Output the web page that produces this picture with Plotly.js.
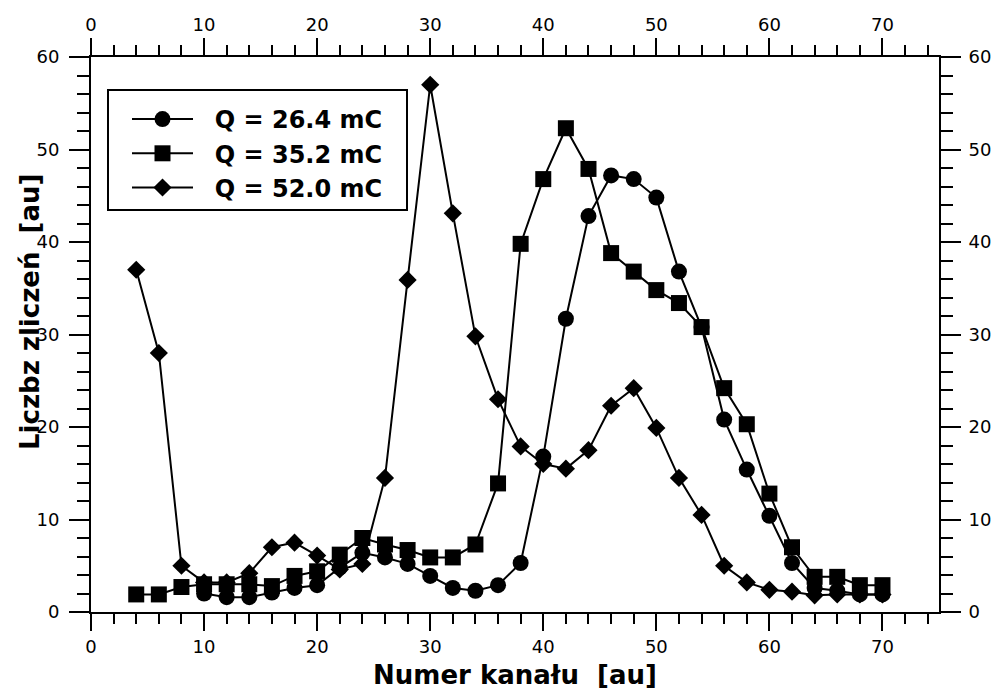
<!DOCTYPE html>
<html>
<head>
<meta charset="utf-8">
<script src="https://cdn.plot.ly/plotly-3.0.1.min.js"></script>
<style>html,body{margin:0;padding:0;background:#fff;}#chart{width:995px;height:690px;}</style>
</head>
<body>
<div id="chart"></div>
<script>
// Channel numbers
const xCirc = [10,12,14,16,18,20,22,24,26,28,30,32,34,36,38,40,42,44,46,48,50,52,54,56,58,60,62,64,66,68,70];
const xSq   = [4,6,8,10,12,14,16,18,20,22,24,26,28,30,32,34,36,38,40,42,44,46,48,50,52,54,56,58,60,62,64,66,68,70];
const xDia  = [4,6,8,10,12,14,16,18,20,22,24,26,28,30,32,34,36,38,40,42,44,46,48,50,52,54,56,58,60,62,64,66,68,70];
// Counts
const yQ264 = [2.0,1.6,1.6,2.1,2.6,2.9,4.8,6.4,5.9,5.2,3.9,2.6,2.3,2.9,5.3,16.8,31.7,42.8,47.2,46.8,44.8,36.8,30.8,20.8,15.4,10.4,5.3,2.6,2.3,1.9,1.9];
const yQ352 = [1.9,1.9,2.7,3.0,3.0,3.0,2.8,3.9,4.4,6.2,8.0,7.3,6.7,5.9,5.9,7.3,13.9,39.8,46.8,52.3,47.9,38.8,36.8,34.8,33.4,30.8,24.2,20.3,12.8,7.0,3.8,3.8,2.9,2.9];
const yQ520 = [37.0,28.0,5.0,3.2,3.2,4.2,7.0,7.5,6.1,4.6,5.2,14.5,35.9,57.0,43.1,29.8,23.0,17.9,16.0,15.5,17.5,22.3,24.2,19.9,14.5,10.5,5.0,3.2,2.4,2.2,1.8,1.9,1.9,1.9];
const seriesNames = ['Q = 26.4 mC','Q = 35.2 mC','Q = 52.0 mC'];
const xTicks = [0,10,20,30,40,50,60,70];
const yTicks = [0,10,20,30,40,50,60];
const xTitle = 'Numer kanału  [au]';
const yTitle = 'Liczbz zliczeń  [au]';

const FONT = 'DejaVu Sans, Verdana, sans-serif';
const lineSty = {color:'#000', width:2};
const pad = '\u00a0\u00a0';

const traces = [
  {x:xCirc, y:yQ264, name:pad + seriesNames[0], mode:'lines+markers', line:lineSty,
   marker:{symbol:'circle', size:16, color:'#000'}},
  {x:xSq, y:yQ352, name:pad + seriesNames[1], mode:'lines+markers', line:lineSty,
   marker:{symbol:'square', size:16, color:'#000'}},
  {x:xDia, y:yQ520, name:pad + seriesNames[2], mode:'lines+markers', line:lineSty,
   marker:{symbol:'diamond', size:14, color:'#000'}},
  {x:[], y:[], xaxis:'x2', yaxis:'y2', showlegend:false, hoverinfo:'skip'}
];

const tickFont = {family:FONT, size:18, color:'#000'};
function xAx(extra){
  return Object.assign({
    showgrid:false, zeroline:false, showline:true, linecolor:'#000', linewidth:2,
    ticks:'outside', ticklen:17, tickwidth:2, tickcolor:'#000', tickfont:tickFont,
    range:[0,75], tickmode:'array', tickvals:xTicks,
    minor:{ticks:'outside', dtick:2, ticklen:10, tickwidth:2, tickcolor:'#000', showgrid:false}
  }, extra);
}
function yAx(extra){
  return Object.assign({
    showgrid:false, zeroline:false, showline:true, linecolor:'#000', linewidth:2,
    ticks:'outside', ticklen:20, tickwidth:2, tickcolor:'#000', tickfont:tickFont,
    range:[0,60], tickmode:'array', tickvals:yTicks,
    minor:{ticks:'outside', dtick:2, ticklen:12, tickwidth:2, tickcolor:'#000', showgrid:false}
  }, extra);
}

const L = 91, T = 57, W = 848, H = 555;
const px = v => (v - L) / W;
const py = v => (T + H - v) / H;

const layout = {
  width:995, height:690,
  margin:{l:L, r:995-L-W, t:T, b:690-T-H},
  paper_bgcolor:'#fff', plot_bgcolor:'#fff',
  showlegend:true,
  legend:{x:px(127), y:py(97), xanchor:'left', yanchor:'top',
    borderwidth:0, bgcolor:'rgba(0,0,0,0)',
    font:{family:FONT, size:24, color:'#000', weight:'bold'},
    itemwidth:61, tracegroupgap:0},
  shapes:[
    {type:'rect', xref:'paper', yref:'paper', x0:px(108), x1:px(407), y0:py(210), y1:py(90),
     line:{color:'#000', width:2}, fillcolor:'rgba(0,0,0,0)', layer:'below'}
  ],
  annotations:[
    {text:yTitle, xref:'paper', yref:'paper', x:px(30), y:py(312), xanchor:'center', yanchor:'middle',
     textangle:-90, showarrow:false, font:{family:FONT, size:26, color:'#000', weight:'bold'}}
  ],
  xaxis:xAx({title:{text:xTitle, font:{family:FONT, size:26, color:'#000', weight:'bold'}, standoff:11}}),
  yaxis:yAx({ticklabelstandoff:6}),
  xaxis2:xAx({overlaying:'x', side:'top'}),
  yaxis2:yAx({overlaying:'y', side:'right', ticklabelstandoff:4})
};

Plotly.newPlot('chart', traces, layout, {displayModeBar:false, staticPlot:true});
</script>
</body>
</html>
